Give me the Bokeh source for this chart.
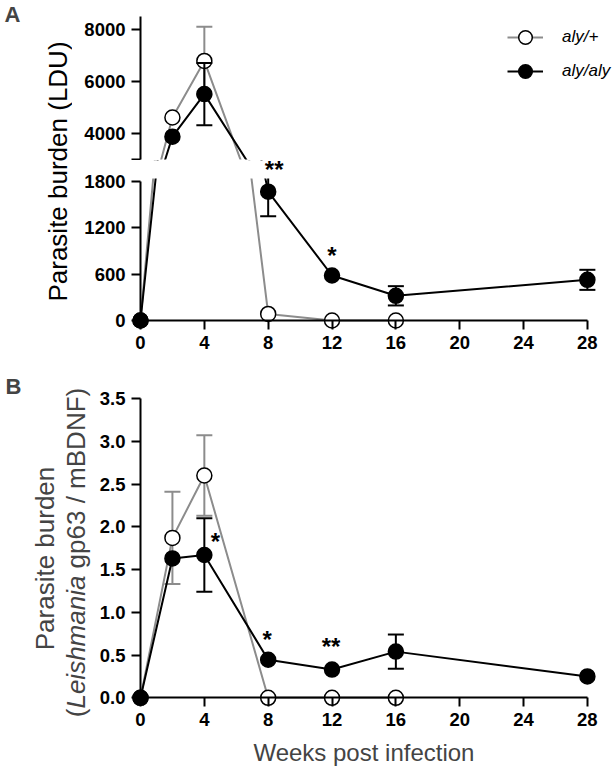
import math
from bokeh.plotting import figure
from bokeh.models import (Range1d, LinearAxis, FixedTicker, Label, Legend,
                          LegendItem, PrintfTickFormatter, BoxAnnotation)
from bokeh.layouts import column, row
from bokeh.embed import file_html
from bokeh.resources import INLINE

# ---------------- data ----------------
weeks_het = [0, 2, 4, 8, 12, 16]
weeks_ko = [0, 2, 4, 8, 12, 16, 28]

# Panel A: parasite burden (LDU), mean and error
ldu_het = [0, 4620, 6800, 85, 0, 0]
ldu_het_err = [0, 0, 1320, 0, 0, 0]
ldu_ko = [0, 3880, 5520, 1670, 583, 320, 527]
ldu_ko_err = [0, 0, 1200, 320, 0, 125, 130]

# Panel B: Leishmania gp63 / mBDNF, mean and error
qpcr_het = [0, 1.87, 2.60, 0.0, 0.0, 0.0]
qpcr_het_err = [0, 0.54, 0.47, 0, 0, 0]
qpcr_ko = [0, 1.63, 1.67, 0.445, 0.33, 0.54, 0.25]
qpcr_ko_err = [0, 0, 0.43, 0, 0, 0.20, 0]

x_ticks = [0, 4, 8, 12, 16, 20, 24, 28]
a_upper_ticks = [3000, 4000, 6000, 8000]
a_lower_ticks = [0, 600, 1200, 1800]
b_ticks = [0, 0.5, 1.0, 1.5, 2.0, 2.5, 3.0, 3.5]

series_labels = ["aly/+", "aly/aly"]

# significance marks: (week, text) on the aly/aly series
stars_a = [(8, "**"), (12, "*")]
stars_b = [(4, "*"), (8, "*"), (12, "**")]

# ---------------- style / geometry ----------------
GRAY = "#8c8c8c"
FONT = "Liberation Sans"
PXW = 15.96                    # pixels per week
X0 = 140                       # page x of week 0
A_LEFT = 72                    # width of the panel-A label strip
XR_A = ((A_LEFT - X0) / PXW, (616 - X0) / PXW)
XR_B = ((0 - X0) / PXW, (616 - X0) / PXW)
AUP_H = 160
AUP_S = 38.54                  # LDU per pixel, upper segment
YR_AUP = (9128 - AUP_H * AUP_S, 9128)
ALOW_H = 208
ALOW_S = 12.96                 # LDU per pixel, lower segment
YR_ALOW = (-48 * ALOW_S, (ALOW_H - 48) * ALOW_S)
ALOW_CLIP = 1840               # lower segment is blank above this value
YR_B = (-0.8268, 3.851)        # 400 px tall frame
MID = 0.35                     # 'middle' anchor sits ~0.35 em above the baseline
star_offsets_a = {8: (6, 22.5), 12: (0, 20)}
star_offsets_b = {4: (11, 13), 8: (-1, 20.5), 12: (-1, 23)}


def make_fig(fw, fh, xr, yr):
    p = figure(frame_width=fw, frame_height=fh,
               x_range=Range1d(*xr), y_range=Range1d(*yr),
               x_axis_location=None, y_axis_location=None,
               toolbar_location=None, output_backend="svg",
               min_border=0)
    p.outline_line_color = None
    p.grid.visible = False
    return p


AX = dict(axis_line_width=2, axis_line_color="black",
          major_tick_line_width=2, major_tick_line_color="black",
          major_tick_out=9, major_tick_in=0,
          minor_tick_out=0, minor_tick_in=0,
          major_label_text_font=FONT, major_label_text_font_style="bold",
          major_label_text_font_size="18.5px", major_label_text_color="black",
          major_label_standoff=6)


def add_axes(p, yticks, ybounds, xaxis=True, overrides=None, fmt=None):
    yax = LinearAxis(fixed_location=0, bounds=ybounds,
                     ticker=FixedTicker(ticks=yticks), **AX)
    if overrides:
        yax.major_label_overrides = overrides
    if fmt is not None:
        yax.formatter = fmt
    p.add_layout(yax, "left")
    if xaxis:
        xax = LinearAxis(fixed_location=0, bounds=(0, 28),
                         ticker=FixedTicker(ticks=x_ticks), **AX)
        p.add_layout(xax, "below")


def draw_series(p, xs, ys, es, color, fill):
    ln = p.line(xs, ys, line_color=color, line_width=2)
    ex = [x for x, e in zip(xs, es) if e > 0]
    lo = [y - e for y, e in zip(ys, es) if e > 0]
    hi = [y + e for y, e in zip(ys, es) if e > 0]
    if ex:
        p.segment(x0=ex, y0=lo, x1=ex, y1=hi, line_color=color, line_width=2)
        p.scatter(ex + ex, lo + hi, marker="dash", size=16,
                  line_color=color, line_width=2)
    sc = p.scatter(xs, ys, marker="circle", size=15, fill_color=fill,
                   line_color="black", line_width=1.5)
    return ln, sc


STAR = dict(text_align="center", text_baseline="middle", text_font=FONT,
            text_font_style="bold", text_font_size="24px", text_color="black")


def add_stars(p, stars, xs, ys, offsets):
    for wk, txt in stars:
        dx, dy = offsets[wk]
        p.add_layout(Label(x=wk, y=ys[xs.index(wk)], x_offset=dx, y_offset=dy,
                           text=txt, **STAR))


def blank(p, **edges):
    p.add_layout(BoxAnnotation(left=0.3, fill_color="white", fill_alpha=1,
                               line_alpha=0, line_color=None, **edges))


# ---------------- panel A (broken axis) ----------------
a_up = make_fig(616 - A_LEFT, AUP_H, XR_A, YR_AUP)
a_low = make_fig(616 - A_LEFT, ALOW_H, XR_A, YR_ALOW)
for p in (a_up, a_low):
    r_het = draw_series(p, weeks_het, ldu_het, ldu_het_err, GRAY, "white")
    r_ko = draw_series(p, weeks_ko, ldu_ko, ldu_ko_err, "black", "black")
    if p is a_up:
        leg_het, leg_ko = r_het, r_ko
# blank the axis break between the two segments
blank(a_up, top=3000)
blank(a_low, bottom=ALOW_CLIP)
add_axes(a_up, a_upper_ticks, (3000, 8500), xaxis=False, overrides={3000: ""})
add_axes(a_low, a_lower_ticks, (0, 1800))
add_stars(a_low, stars_a, weeks_ko, ldu_ko, star_offsets_a)

legend = Legend(items=[LegendItem(label=series_labels[0], renderers=list(leg_het)),
                       LegendItem(label=series_labels[1], renderers=list(leg_ko))],
                location=(507 - A_LEFT, AUP_H - 87.5), orientation="vertical",
                glyph_width=36, glyph_height=34, label_height=34,
                label_standoff=19, spacing=0, padding=0, margin=0,
                border_line_color=None, background_fill_alpha=0,
                label_text_font=FONT, label_text_font_style="italic",
                label_text_font_size="17px", label_text_color="black")
a_up.add_layout(legend)

labA = figure(width=A_LEFT, height=368, x_range=Range1d(0, A_LEFT), y_range=Range1d(368, 0),
              min_border=0, x_axis_location=None, y_axis_location=None,
              toolbar_location=None, output_backend="svg")
labA.outline_line_color = None
labA.grid.visible = False
labA.add_layout(Label(x=4, y=22 - MID * 22, text="A", text_font=FONT,
                      text_font_style="bold", text_font_size="22px",
                      text_baseline="middle"))
labA.add_layout(Label(x=66.5 - MID * 26, y=171, text="Parasite burden (LDU)",
                      angle=math.pi / 2, text_align="center", text_baseline="middle",
                      text_font=FONT, text_font_size="26px", text_color="black"))

# ---------------- panel B ----------------
b = make_fig(616, 400, XR_B, YR_B)
draw_series(b, weeks_het, qpcr_het, qpcr_het_err, GRAY, "white")
draw_series(b, weeks_ko, qpcr_ko, qpcr_ko_err, "black", "black")
add_axes(b, b_ticks, (0, 3.5), fmt=PrintfTickFormatter(format="%.1f"))
add_stars(b, stars_b, weeks_ko, qpcr_ko, star_offsets_b)

# label placement helpers (page pixel -> panel B data units)
YS = (YR_B[1] - YR_B[0]) / 400.0
def bx(px):
    return XR_B[0] + px / PXW
def by(py):
    return YR_B[0] + (768 - py) * YS

b.add_layout(Label(x=bx(5), y=by(394 - MID * 22), text="B", text_font=FONT,
                   text_font_style="bold", text_font_size="22px", text_baseline="middle"))
b.add_layout(Label(x=bx(53.3 - MID * 26), y=by(558), text="Parasite burden",
                   angle=math.pi / 2, text_align="center", text_baseline="middle",
                   text_font=FONT, text_font_size="26px"))
fs = 26.0
pieces = [("(", "normal", 0.333, 0.0), ("Leishmania", "italic", 5.113, 0.0),
          ("gp63 / mBDNF)", "normal", 6.946, 0.278)]
total = sum(w + gap for _, _, w, gap in pieces) * fs
ystart = 552 + total / 2
for txt, style, w, gap in pieces:
    ystart -= gap * fs
    b.add_layout(Label(x=bx(85 - MID * 26), y=by(ystart), text=txt, angle=math.pi / 2,
                       text_align="left", text_baseline="middle",
                       text_font=FONT, text_font_style=style, text_font_size="26px"))
    ystart -= w * fs
b.add_layout(Label(x=14, y=by(760 - MID * 24), text="Weeks post infection",
                   text_align="center", text_baseline="middle",
                   text_font=FONT, text_font_size="24px"))

layout = column(row(labA, column(a_up, a_low)), b)
open("out.html", "w").write(file_html(layout, INLINE))
